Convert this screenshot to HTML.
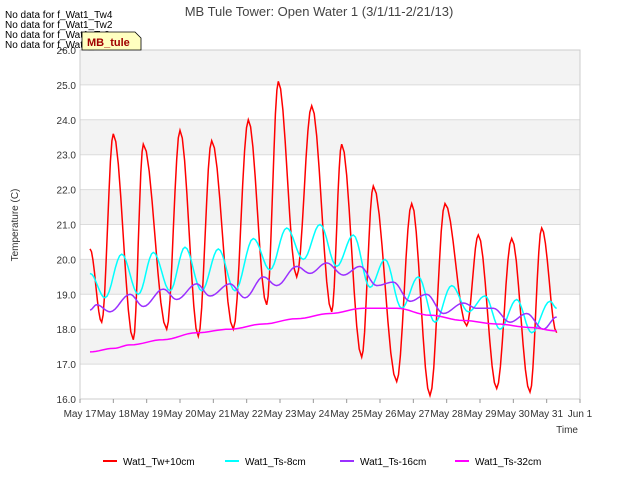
<!DOCTYPE html>
<html><head><meta charset="utf-8"><style>
body{margin:0;background:#fff;font-family:"Liberation Sans",sans-serif}
svg{display:block}
text{font-family:"Liberation Sans",sans-serif}
</style></head><body>
<svg id="chart" width="640" height="480" xmlns="http://www.w3.org/2000/svg">
<g id="bands"></g><g id="grid"></g><g id="series"></g><g id="axes"></g>
<text x="319" y="16" text-anchor="middle" font-size="13" fill="#444">MB Tule Tower: Open Water 1 (3/1/11-2/21/13)</text>
<text transform="translate(18,225) rotate(-90)" text-anchor="middle" font-size="10" fill="#333">Temperature (C)</text>
<text x="578" y="433" text-anchor="end" font-size="10" fill="#333">Time</text>
<g font-size="10" fill="#000">
<text x="5" y="18">No data for f_Wat1_Tw4</text>
<text x="5" y="28">No data for f_Wat1_Tw2</text>
<text x="5" y="38">No data for f_Wat1_Ts2</text>
<text x="5" y="48">No data for f_Wat1_Ts4</text>
</g>
<g>
<path d="M82,32 L135,32 L141,38 L141,50 L82,50 Z" fill="#ffffc0" stroke="#000" stroke-width="0.8"/>
<text x="87" y="46" font-size="11" font-weight="bold" fill="#a00000">MB_tule</text>
</g>
<g id="legend"></g>
</svg>
<script>
const yTicks=[16,17,18,19,20,21,22,23,24,25,26];
const xTickLabels=["May 17","May 18","May 19","May 20","May 21","May 22","May 23","May 24","May 25","May 26","May 27","May 28","May 29","May 30","May 31","Jun 1"];
const seriesNames=["Wat1_Tw+10cm","Wat1_Ts-8cm","Wat1_Ts-16cm","Wat1_Ts-32cm"];
const twT=[0.3,0.65,1.0,1.6,1.9,2.6,3.0,3.55,3.95,4.6,5.05,5.6,5.95,6.5,6.95,7.55,7.85,8.45,8.8,9.5,9.95,10.5,10.95,11.6,11.95,12.5,12.95,13.5,13.85,14.3];
const twV=[20.3,18.2,23.6,17.7,23.3,18.0,23.7,17.8,23.4,18.0,24.0,18.7,25.1,19.5,24.4,18.5,23.3,17.2,22.1,16.5,21.6,16.1,21.6,18.1,20.7,16.3,20.6,16.2,20.9,17.9];
const s8T=[0.3,0.75,1.25,1.75,2.2,2.7,3.15,3.65,4.15,4.65,5.2,5.7,6.2,6.7,7.2,7.7,8.2,8.7,9.15,9.65,10.15,10.65,11.15,11.65,12.15,12.6,13.1,13.55,14.1,14.3];
const s8V=[19.6,18.9,20.15,19.0,20.2,19.1,20.35,19.1,20.3,19.1,20.6,19.7,20.9,20.0,21.0,19.8,20.7,19.2,20.0,18.6,19.5,18.2,19.25,18.5,18.95,18.0,18.85,17.9,18.8,18.6];
const s16T=[0.3,0.5,0.9,1.5,1.9,2.5,2.9,3.5,3.9,4.5,4.95,5.5,5.9,6.5,6.9,7.4,7.9,8.4,8.9,9.4,9.9,10.4,10.9,11.5,11.9,12.4,12.9,13.4,13.9,14.3];
const s16V=[18.55,18.7,18.5,19.0,18.65,19.15,18.85,19.3,18.95,19.3,18.9,19.5,19.25,19.8,19.6,19.9,19.55,19.8,19.25,19.35,18.8,19.0,18.45,18.75,18.6,18.6,18.2,18.45,18.0,18.35];
const s32T=[0.3,1.0,1.5,2.5,3.5,4.5,5.5,6.5,7.5,8.5,9.5,10.5,11.5,12.5,13.5,14.3];
const s32V=[17.35,17.45,17.55,17.7,17.9,18.0,18.15,18.3,18.45,18.6,18.6,18.4,18.25,18.15,18.05,17.95];
const colors=["#ff0000","#00ffff","#9b30ff","#ff00ff"];

const X0=80,X1=580,Y0=399,Y1=50;
const xs=d=>X0+d*(X1-X0)/15;
const ys=v=>Y0-(v-16)*(Y0-Y1)/10;
const NS="http://www.w3.org/2000/svg";
function mk(tag,attrs,parent){const e=document.createElementNS(NS,tag);for(const k in attrs)e.setAttribute(k,attrs[k]);parent.appendChild(e);return e;}
const bands=document.getElementById('bands'),grid=document.getElementById('grid'),axes=document.getElementById('axes'),ser=document.getElementById('series'),leg=document.getElementById('legend');
mk('rect',{x:X0,y:Y1,width:X1-X0,height:Y0-Y1,fill:'#fff'},bands);
for(let i=0;i<yTicks.length-1;i++){
  if(i%2===1){const r=mk('rect',{x:X0,y:ys(yTicks[i+1]),width:X1-X0,height:ys(yTicks[i])-ys(yTicks[i+1]),fill:'#f3f3f3'},bands);
  
  }
}
yTicks.forEach(v=>{
  const l=mk('line',{x1:X0,x2:X1,y1:ys(v),y2:ys(v),stroke:'#dcdcdc','stroke-width':1},grid);
  
  
  const t=mk('text',{x:X0-4,y:ys(v)+4,'text-anchor':'end','font-size':10,fill:'#333'},axes);
  
  
  t.textContent=v.toFixed(1);
});
mk('rect',{x:X0,y:Y1,width:X1-X0,height:Y0-Y1,fill:'none',stroke:'#ccc','stroke-width':1},axes);
xTickLabels.forEach((s,i)=>{
  mk('line',{x1:xs(i),x2:xs(i),y1:Y0,y2:Y0+4,stroke:'#999'},axes);
  const t=mk('text',{x:xs(i),y:Y0+18,'text-anchor':'middle','font-size':10,fill:'#333'},axes);
  
  
  t.textContent=s;
});
function curve(T,V){
  let d='M'+xs(T[0]).toFixed(1)+','+ys(V[0]).toFixed(1);
  for(let i=0;i<T.length-1;i++){
    for(let k=1;k<=8;k++){const f=k/8,c=(1-Math.cos(Math.PI*f))/2;
      d+=' L'+xs(T[i]+(T[i+1]-T[i])*f).toFixed(1)+','+ys(V[i]+(V[i+1]-V[i])*c).toFixed(1);}
  }
  return d;
}
const data=[[twT,twV],[s8T,s8V],[s16T,s16V],[s32T,s32V]];
const snames=['series-tw-10cm','series-ts-8cm','series-ts-16cm','series-ts-32cm'];
data.forEach((s,i)=>{
  const p=mk('path',{d:curve(s[0],s[1]),fill:'none',stroke:colors[i],'stroke-width':1.5},ser);
  
  
});
const lx=[103,225,340,455];
seriesNames.forEach((n,i)=>{
  const g=mk('g',{},leg);
  
  
  mk('line',{x1:lx[i],x2:lx[i]+14,y1:461,y2:461,stroke:colors[i],'stroke-width':2},g);
  const t=mk('text',{x:lx[i]+20,y:465,'font-size':10,fill:'#000'},g);
  t.textContent=n;
});
</script>
</body></html>
